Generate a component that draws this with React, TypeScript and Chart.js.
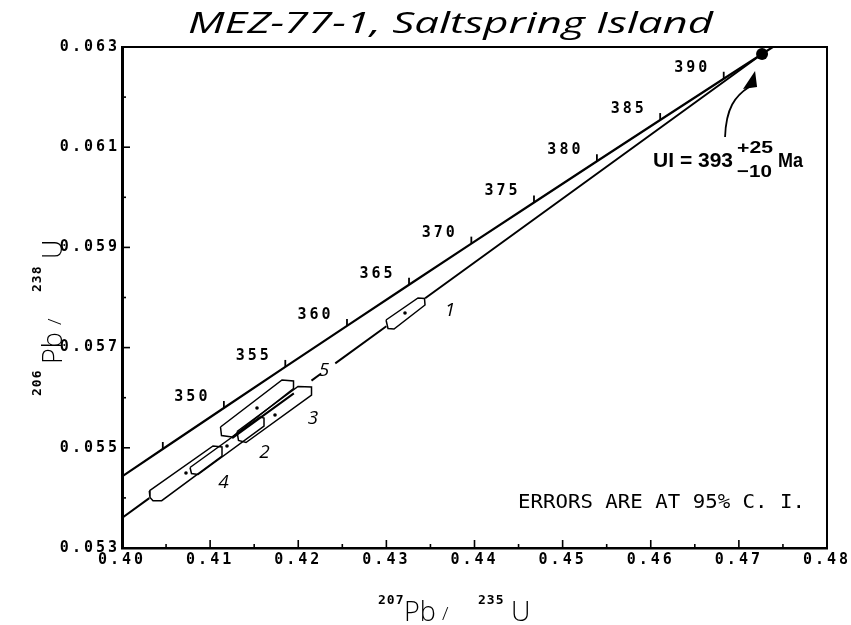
import React, { useEffect, useRef } from "react";
import { Chart, registerables } from "chart.js";

Chart.register(...registerables);

// ---- Concordia curve (ages in Ma) ----
const concordiaAges = [340, 345, 350, 355, 360, 365, 370, 375, 380, 385, 390, 395];
const concordiaX = [0.39773, 0.40463, 0.41156, 0.41853, 0.42553, 0.43257, 0.43964, 0.44675, 0.45389, 0.46107, 0.46828, 0.47553];
const concordiaY = [0.054158, 0.054976, 0.055794, 0.056614, 0.057433, 0.058254, 0.059075, 0.059897, 0.060719, 0.061542, 0.062366, 0.06319];
const tickAges = [345, 350, 355, 360, 365, 370, 375, 380, 385, 390];
const labelledAges = [350, 355, 360, 365, 370, 375, 380, 385, 390];

// ---- Discordia line (broken around the error boxes and label 5) ----
const discordiaX = [0.4, 0.4031, null, 0.4125, 0.4195, null, 0.4215, 0.4226, null, 0.4242, 0.43, null, 0.4344, 0.47263];
const discordiaY = [0.0536, 0.053995, null, 0.055194, 0.056086, null, 0.056341, 0.056482, null, 0.056686, 0.057425, null, 0.057986, 0.062861];

// ---- Upper intercept ----
const interceptX = [0.47263];
const interceptY = [0.062861];
const interceptAge = 393;
const interceptPlus = 25;
const interceptMinus = 10;

// ---- Samples ----
const sampleNames = ["1", "2", "3", "4", "5"];
const sampleX = [0.432115, 0.411915, 0.417362, 0.40726, 0.41532];
const sampleY = [0.057691, 0.055036, 0.055655, 0.054497, 0.055794];
const sampleLabelX = [0.43722, 0.41617, 0.42167, 0.41152, 0.42292];
const sampleLabelY = [0.05773, 0.054896, 0.055575, 0.054307, 0.056533];

// ---- Error boxes (outline vertices) ----
const box1X = [0.429959, 0.430186, 0.430867, 0.434384, 0.434327, 0.43359];
const box1Y = [0.057551, 0.057381, 0.057371, 0.05785, 0.05798, 0.05799];
const box2X = [0.407717, 0.407887, 0.408625, 0.416114, 0.416114, 0.41566];
const box2Y = [0.054607, 0.054487, 0.054467, 0.055435, 0.055595, 0.055615];
const box3X = [0.41305, 0.41322, 0.414072, 0.421505, 0.421505, 0.419972];
const box3Y = [0.055325, 0.055146, 0.055106, 0.056054, 0.056214, 0.056224];
const box4X = [0.403098, 0.403177, 0.403518, 0.404505, 0.411348, 0.411348, 0.410327];
const box4Y = [0.054138, 0.054008, 0.053944, 0.053944, 0.054836, 0.055016, 0.055036];
const box5X = [0.411178, 0.411291, 0.412483, 0.419462, 0.419462, 0.418156];
const box5Y = [0.055415, 0.055245, 0.055216, 0.056184, 0.056333, 0.056353];

// ---- Axis ticks ----
const xMajor = [0.4, 0.41, 0.42, 0.43, 0.44, 0.45, 0.46, 0.47, 0.48];
const xMinor = [0.405, 0.415, 0.425, 0.435, 0.445, 0.455, 0.465, 0.475];
const yMajor = [0.053, 0.055, 0.057, 0.059, 0.061, 0.063];
const yMinor = [0.054, 0.056, 0.058, 0.06, 0.062];

const toPts = (xs: (number | null)[], ys: (number | null)[]) =>
  xs.map((x, i) => ({ x: x as number, y: ys[i] as number }));
const closed = (xs: number[], ys: number[]) => toPts([...xs, xs[0]], [...ys, ys[0]]);

const MONO = '"DejaVu Sans Mono"';

function fitText(ctx: CanvasRenderingContext2D, text: string, font: string, x: number, y: number, width: number) {
  ctx.save();
  ctx.font = font;
  (ctx as any).letterSpacing = "0px";
  ctx.textAlign = "left";
  ctx.textBaseline = "alphabetic";
  const w = ctx.measureText(text).width;
  ctx.translate(x, y);
  ctx.scale(width / w, 1);
  ctx.fillText(text, 0, 0);
  ctx.restore();
}

function seg(ctx: CanvasRenderingContext2D, x1: number, y1: number, x2: number, y2: number) {
  ctx.beginPath();
  ctx.moveTo(x1, y1);
  ctx.lineTo(x2, y2);
  ctx.stroke();
}

const decor = {
  id: "decor",
  beforeDraw(chart: any) {
    chart.ctx.letterSpacing = "3px";
  },
  beforeDatasetsDraw(chart: any) {
    chart.ctx.letterSpacing = "0px";
  },
  afterDatasetsDraw(chart: any) {
    const { ctx, chartArea: a, scales } = chart;
    const px = (v: number) => scales.x.getPixelForValue(v);
    const py = (v: number) => scales.y.getPixelForValue(v);
    ctx.save();
    ctx.strokeStyle = "#000";
    ctx.fillStyle = "#000";
    ctx.lineCap = "butt";

    // top & right frame
    ctx.lineWidth = 2;
    ctx.beginPath();
    ctx.moveTo(a.left, a.top);
    ctx.lineTo(a.right, a.top);
    ctx.lineTo(a.right, a.bottom);
    ctx.stroke();

    // inward axis ticks
    ctx.lineWidth = 1.6;
    xMajor.forEach((v) => seg(ctx, px(v), a.bottom, px(v), a.bottom - 8));
    xMinor.forEach((v) => seg(ctx, px(v), a.bottom, px(v), a.bottom - 4));
    yMajor.forEach((v) => seg(ctx, a.left, py(v), a.left + 8, py(v)));
    yMinor.forEach((v) => seg(ctx, a.left, py(v), a.left + 4, py(v)));

    // concordia age ticks
    ctx.lineWidth = 1.8;
    tickAges.forEach((age) => {
      const i = concordiaAges.indexOf(age);
      const x = px(concordiaX[i]);
      const y = py(concordiaY[i]);
      seg(ctx, x, y, x, y - 7);
    });

    // age labels
    ctx.font = `bold 15px ${MONO}`;
    ctx.letterSpacing = "3px";
    ctx.textAlign = "center";
    ctx.textBaseline = "middle";
    labelledAges.forEach((age) => {
      const i = concordiaAges.indexOf(age);
      ctx.fillText(String(age), px(concordiaX[i]) - 31.5, py(concordiaY[i]) - 11);
    });
    ctx.letterSpacing = "0px";

    // sample labels
    ctx.font = 'italic 19px "Open Sans"';
    sampleNames.forEach((n, i) => ctx.fillText(n, px(sampleLabelX[i]), py(sampleLabelY[i])));

    // upper intercept annotation
    const ux = px(interceptX[0]);
    const uy = py(interceptY[0]);
    fitText(ctx, `UI = ${interceptAge}`, 'bold 20px "Liberation Sans"', ux - 109, uy + 113, 80);
    fitText(ctx, `+${interceptPlus}`, 'bold 17px "Liberation Sans"', ux - 25, uy + 99, 36);
    fitText(ctx, `\u2212${interceptMinus}`, 'bold 17px "Liberation Sans"', ux - 25, uy + 123, 35);
    fitText(ctx, "Ma", 'bold 20px "Liberation Sans"', ux + 16, uy + 113, 25);

    // arrow
    ctx.lineWidth = 1.8;
    ctx.beginPath();
    ctx.moveTo(ux - 37, uy + 83);
    ctx.bezierCurveTo(ux - 36, uy + 54, ux - 27, uy + 42, ux - 13, uy + 33);
    ctx.stroke();
    ctx.beginPath();
    ctx.moveTo(ux - 7, uy + 17);
    ctx.lineTo(ux - 19, uy + 35);
    ctx.lineTo(ux - 5, uy + 33);
    ctx.closePath();
    ctx.fill();

    // errors note
    fitText(ctx, "ERRORS ARE AT 95% C. I.", `20px ${MONO}`, a.left + 396, a.bottom - 40, 287);

    // chart title
    fitText(ctx, "MEZ-77-1, Saltspring Island", 'italic 29px "Open Sans"', 188, 33, 525);

    // x axis title
    ctx.font = `bold 13px ${MONO}`;
    ctx.letterSpacing = "1px";
    ctx.textAlign = "left";
    ctx.textBaseline = "alphabetic";
    ctx.fillText("207", 378, 604);
    ctx.fillText("235", 478, 604);
    ctx.letterSpacing = "0px";
    ctx.font = '300 27px "Open Sans"';
    ctx.fillText("Pb", 404, 621);
    ctx.fillText("U", 511, 621);
    ctx.font = '300 19px "Open Sans"';
    ctx.fillText("/", 442, 620);

    // y axis title (rotated)
    ctx.save();
    ctx.translate(62, 400);
    ctx.rotate(-Math.PI / 2);
    ctx.font = `bold 13px ${MONO}`;
    ctx.letterSpacing = "1px";
    ctx.fillText("206", 4, -21);
    ctx.fillText("238", 108, -21);
    ctx.letterSpacing = "0px";
    ctx.font = '300 27px "Open Sans"';
    ctx.fillText("Pb", 36, 0);
    ctx.fillText("U", 141, 0);
    ctx.font = '300 19px "Open Sans"';
    ctx.fillText("/", 75, -1);
    ctx.restore();

    ctx.restore();
  },
};

export default function App() {
  const ref = useRef<HTMLCanvasElement | null>(null);

  useEffect(() => {
    document.body.style.margin = "0";
    const canvas = ref.current;
    if (!canvas) return;

    const boxes = [
      [box1X, box1Y],
      [box2X, box2Y],
      [box3X, box3Y],
      [box4X, box4Y],
      [box5X, box5Y],
    ];

    const tickFont = { family: "DejaVu Sans Mono", size: 15, weight: "bold" as const };

    const chart = new Chart(canvas, {
      type: "scatter",
      data: {
        datasets: [
          {
            label: "discordia",
            data: toPts(discordiaX, discordiaY),
            showLine: true,
            spanGaps: false,
            borderColor: "#000",
            borderWidth: 2,
            pointRadius: 0,
            order: 10,
          },
          ...boxes.map(([bx, by], i) => ({
            label: "box " + sampleNames[i],
            data: closed(bx, by),
            showLine: true,
            borderColor: "#000",
            borderWidth: 1.5,
            pointRadius: 0,
            fill: false,
            order: 5,
          })),
          {
            label: "concordia",
            data: toPts(concordiaX, concordiaY),
            showLine: true,
            borderColor: "#000",
            borderWidth: 2.2,
            pointRadius: 0,
            order: 4,
          },
          {
            label: "samples",
            data: toPts(sampleX, sampleY),
            showLine: false,
            pointRadius: 1.8,
            pointBackgroundColor: "#000",
            pointBorderWidth: 0,
            order: 1,
          },
          {
            label: "upper intercept",
            data: toPts(interceptX, interceptY),
            showLine: false,
            pointRadius: 6,
            pointBackgroundColor: "#000",
            pointBorderWidth: 0,
            order: 0,
          },
        ] as any,
      },
      options: {
        animation: false,
        responsive: false,
        devicePixelRatio: 1,
        events: [],
        layout: { padding: { left: 52, right: 24, top: 47, bottom: 47 } },
        plugins: {
          legend: { display: false },
          tooltip: { enabled: false },
          title: { display: false },
        },
        scales: {
          x: {
            type: "linear",
            position: "bottom",
            min: 0.4,
            max: 0.48,
            afterBuildTicks: (s: any) => {
              s.ticks = xMajor.map((value) => ({ value }));
            },
            afterFit: (s: any) => {
              s.height = 30;
            },
            ticks: {
              callback: (v: any) => Number(v).toFixed(2),
              font: tickFont,
              color: "#000",
              padding: 3,
              maxRotation: 0,
              autoSkip: false,
            },
            grid: { display: false, drawTicks: false },
            border: { display: true, color: "#000", width: 2.5 },
          },
          y: {
            type: "linear",
            position: "left",
            min: 0.053,
            max: 0.063,
            afterBuildTicks: (s: any) => {
              s.ticks = yMajor.map((value) => ({ value }));
            },
            afterFit: (s: any) => {
              s.width = 70;
            },
            ticks: {
              callback: (v: any) => Number(v).toFixed(3),
              font: tickFont,
              color: "#000",
              padding: 2,
              autoSkip: false,
            },
            grid: { display: false, drawTicks: false },
            border: { display: true, color: "#000", width: 3 },
          },
        },
      } as any,
      plugins: [decor],
    });

    return () => chart.destroy();
  }, []);

  return (
    <div style={{ width: 851, height: 625, position: "relative", background: "#fff" }}>
      <canvas ref={ref} width={851} height={625} style={{ display: "block", width: 851, height: 625 }} />
    </div>
  );
}
